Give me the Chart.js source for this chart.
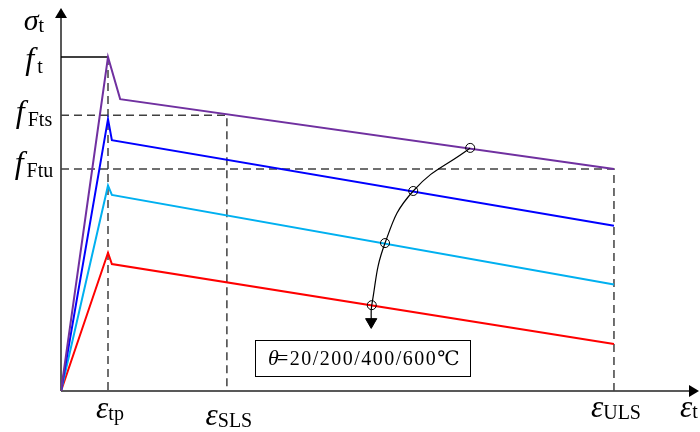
<!DOCTYPE html>
<html>
<head>
<meta charset="utf-8">
<script src="https://cdn.jsdelivr.net/npm/chart.js@4.4.0/dist/chart.umd.min.js"></script>
<style>
  html, body { margin: 0; padding: 0; background: #fff; }
  #wrap { width: 700px; height: 432px; }
</style>
</head>
<body>
<div id="wrap"><canvas id="chart" width="700" height="432"></canvas></div>
<script>
// strain in units where eps_ULS = 10, stress in units where f_t = 1
const epsTp = 0.85;
const epsSLS = 3.0;
const epsULS = 10;
const fT = 1.0;
const fFts = 0.826;
const fFtu = 0.665;

// one curve per temperature: 20 / 200 / 400 / 600 C
const temps = [20, 200, 400, 600];
const peakStress = [1.0, 0.814, 0.615, 0.414];
const kinkStrain = [1.07, 0.92, 0.92, 0.92];
const kinkStress = [0.874, 0.751, 0.587, 0.380];
const endStress = [0.665, 0.495, 0.319, 0.141];

// arc through the curves (circles), ending with the arrow
const markStrain = [7.40, 6.37, 5.86, 5.62];
const markStress = [0.728, 0.599, 0.443, 0.257];
const arrowStrain = 5.61;
const arrowStress = 0.207;

const yTickValues = [fT, fFts, fFtu];
const yTickLabels = [['f', 't'], ['f', 'Fts'], ['f', 'Ftu']];
const xTickValues = [epsTp, epsSLS, epsULS];
const xTickLabels = [['ε', 'tp'], ['ε', 'SLS'], ['ε', 'ULS']];

const colors = ['#7030A0', '#0000FF', '#00B0F0', '#FF0000'];
const dashColor = '#404040';
const serif = "'Liberation Serif', 'DejaVu Serif', serif";

const datasets = [];

// temperature arc with circle marks
datasets.push({
  data: markStrain.map((x, i) => ({ x: x, y: markStress[i] })).concat([{ x: arrowStrain, y: arrowStress }]),
  borderColor: '#000',
  borderWidth: 1.2,
  tension: 0.45,
  pointRadius: markStrain.map(() => 4.5).concat([0]),
  pointBorderColor: '#000',
  pointBackgroundColor: 'rgba(0,0,0,0)',
  pointBorderWidth: 1
});
datasets.push({
  data: [{ x: arrowStrain, y: arrowStress }],
  pointStyle: 'triangle',
  rotation: 180,
  pointRadius: 6.5,
  pointBackgroundColor: '#000',
  pointBorderColor: '#000',
  pointBorderWidth: 1,
  showLine: false
});

temps.forEach((t, i) => {
  datasets.push({
    label: t + '℃',
    data: [
      { x: 0, y: 0 },
      { x: epsTp, y: peakStress[i] },
      { x: kinkStrain[i], y: kinkStress[i] },
      { x: epsULS, y: endStress[i] }
    ],
    borderColor: colors[i],
    borderWidth: 2,
    pointRadius: 0,
    tension: 0
  });
});

// f_t plateau
datasets.push({
  data: [{ x: 0, y: fT }, { x: epsTp, y: fT }],
  borderColor: '#000', borderWidth: 1.5, pointRadius: 0
});

// dashed guides
const dashed = (pts) => ({
  data: pts, borderColor: dashColor, borderWidth: 1.5, borderDash: [8, 5], pointRadius: 0
});
datasets.push(dashed([{ x: 0, y: fFts }, { x: epsSLS, y: fFts }, { x: epsSLS, y: 0 }]));
datasets.push(dashed([{ x: 0, y: fFtu }, { x: epsULS, y: fFtu }, { x: epsULS, y: 0 }]));
datasets.push(dashed([{ x: epsTp, y: fT }, { x: epsTp, y: 0 }]));

function drawSub(ctx, main, sub, x, base, mainFont, subFont, drop, gap, align) {
  ctx.font = mainFont;
  const w1 = ctx.measureText(main).width + gap;
  ctx.font = subFont;
  const w2 = ctx.measureText(sub).width;
  const x0 = align === 'left' ? x : x - (w1 + w2) / 2;
  ctx.textAlign = 'left';
  ctx.textBaseline = 'alphabetic';
  ctx.font = mainFont;
  ctx.fillText(main, x0, base);
  ctx.font = subFont;
  ctx.fillText(sub, x0 + w1, base + drop);
}

const axesPlugin = {
  id: 'axes',
  beforeDatasetsDraw(chart) {
    const { ctx, chartArea: a } = chart;
    ctx.save();
    ctx.strokeStyle = '#595959';
    ctx.lineWidth = 2;
    ctx.beginPath();
    ctx.moveTo(a.left, a.bottom);
    ctx.lineTo(a.left, a.top);
    ctx.moveTo(a.left, a.bottom);
    ctx.lineTo(a.right, a.bottom);
    ctx.stroke();
    ctx.fillStyle = '#000';
    ctx.beginPath();
    ctx.moveTo(a.left, a.top - 9);
    ctx.lineTo(a.left - 6, a.top + 1);
    ctx.lineTo(a.left + 6, a.top + 1);
    ctx.closePath();
    ctx.fill();
    ctx.beginPath();
    ctx.moveTo(a.right + 9, a.bottom);
    ctx.lineTo(a.right - 1, a.bottom - 6);
    ctx.lineTo(a.right - 1, a.bottom + 6);
    ctx.closePath();
    ctx.fill();
    ctx.restore();
  },
  afterDraw(chart) {
    const { ctx, chartArea: a, scales: { x, y } } = chart;
    ctx.save();
    ctx.fillStyle = '#000';
    const fMain = 'italic 32px ' + serif;
    const fSub = '20px ' + serif;
    const epsFont = 'italic 31px ' + serif;
    const cx = 34;

    // axis titles
    drawSub(ctx, 'σ', 't', cx, 30, 'italic 30px ' + serif, fSub, 2, 0, 'center');
    drawSub(ctx, 'ε', 't', a.right - 10, a.bottom + 26, epsFont, fSub, 1, 0, 'left');

    // stress labels
    const yDrop = [12, 7, 4];
    yTickValues.forEach((v, i) => {
      drawSub(ctx, yTickLabels[i][0], yTickLabels[i][1], cx, y.getPixelForValue(v) + yDrop[i],
        fMain, fSub, 4, 3, 'center');
    });

    // strain labels
    const xDrop = [27, 34, 26];
    xTickValues.forEach((v, i) => {
      drawSub(ctx, xTickLabels[i][0], xTickLabels[i][1], x.getPixelForValue(v) + 2, a.bottom + xDrop[i],
        epsFont, '20px ' + serif, 2, 0, 'center');
    });

    // temperature box
    const bx0 = x.getPixelForValue(3.51), bx1 = x.getPixelForValue(7.40);
    const by0 = y.getPixelForValue(0.153), by1 = y.getPixelForValue(0.045);
    ctx.fillStyle = '#fff';
    ctx.fillRect(bx0, by0, bx1 - bx0, by1 - by0);
    ctx.strokeStyle = '#000';
    ctx.lineWidth = 1;
    ctx.strokeRect(Math.round(bx0) + 0.5, Math.round(by0) + 0.5, Math.round(bx1 - bx0), Math.round(by1 - by0));
    ctx.fillStyle = '#000';
    const rest = '=' + temps.join('/') + '℃';
    ctx.font = 'italic 22px ' + serif;
    const wT = ctx.measureText('θ').width;
    ctx.font = '20px ' + serif;
    ctx.letterSpacing = '1.5px';
    const wR = ctx.measureText(rest).width;
    const tx = (bx0 + bx1) / 2 - (wT + wR) / 2 + 3;
    const ty = (by0 + by1) / 2 + 7;
    ctx.fillText(rest, tx + wT - 2, ty);
    ctx.letterSpacing = '0px';
    ctx.font = 'italic 22px ' + serif;
    ctx.fillText('θ', tx, ty);
    ctx.restore();
  }
};

new Chart(document.getElementById('chart'), {
  type: 'line',
  data: { datasets: datasets },
  options: {
    responsive: false,
    animation: false,
    devicePixelRatio: 1,
    layout: { padding: { left: 61, right: 10, top: 17, bottom: 41 } },
    plugins: { legend: { display: false }, tooltip: { enabled: false } },
    scales: {
      x: { type: 'linear', min: 0, max: 11.375, display: false },
      y: { type: 'linear', min: 0, max: 1.12, display: false }
    }
  },
  plugins: [axesPlugin]
});
</script>
</body>
</html>
